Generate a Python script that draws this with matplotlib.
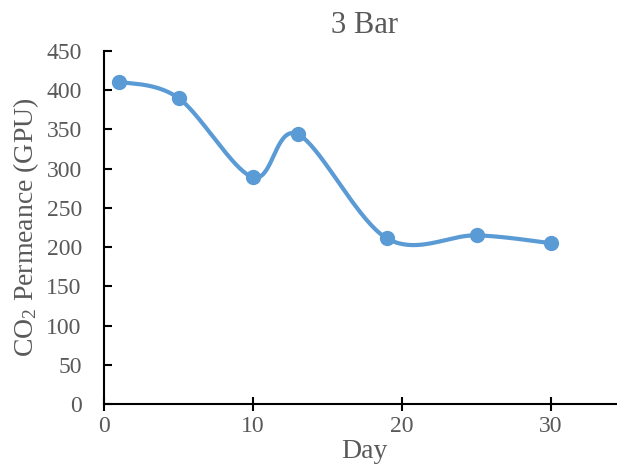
import numpy as np
import matplotlib
matplotlib.use("Agg")
import matplotlib.pyplot as plt

plt.rcParams['font.family'] = ['Liberation Serif', 'DejaVu Serif']
plt.rcParams['mathtext.fontset'] = 'custom'
plt.rcParams['mathtext.rm'] = 'Liberation Serif'
plt.rcParams['mathtext.it'] = 'Liberation Serif:italic'

# datos
dias = [1, 5, 10, 13, 19, 25, 30]
permeancia = [411, 390, 289, 344, 211, 215, 205]

azul = '#5B9BD5'
gris = '#595959'


# curva suavizada tipo excel (catmull-rom)
def suavizar(x, y, n=40):
    x = np.asarray(x, float)
    y = np.asarray(y, float)
    px = np.concatenate([[x[0]], x, [x[-1]]])
    py = np.concatenate([[y[0]], y, [y[-1]]])
    xs, ys = [], []
    t = np.linspace(0, 1, n)
    for i in range(1, len(px) - 2):
        p0, p1, p2, p3 = px[i-1], px[i], px[i+1], px[i+2]
        q0, q1, q2, q3 = py[i-1], py[i], py[i+1], py[i+2]
        c1x, c1y = p1 + (p2 - p0) / 6, q1 + (q2 - q0) / 6
        c2x, c2y = p2 - (p3 - p1) / 6, q2 - (q3 - q1) / 6
        bx = (1-t)**3*p1 + 3*(1-t)**2*t*c1x + 3*(1-t)*t**2*c2x + t**3*p2
        by = (1-t)**3*q1 + 3*(1-t)**2*t*c1y + 3*(1-t)*t**2*c2y + t**3*q2
        xs.append(bx)
        ys.append(by)
    return np.concatenate(xs), np.concatenate(ys)


fig = plt.figure(figsize=(6.17, 4.71), dpi=100)
ax = fig.add_axes([104/617, 67/471, 521.5/617, 353/471])

sx, sy = suavizar(dias, permeancia)
ax.plot(sx, sy, color=azul, lw=3, zorder=2, clip_on=False)
ax.plot(dias, permeancia, 'o', color=azul, ms=10, zorder=3, clip_on=False)

ax.set_xlim(0, 35)
ax.set_ylim(0, 450)
ax.set_xticks([0, 10, 20, 30])
ax.set_yticks(np.arange(0, 451, 50))

for s in ['top', 'right']:
    ax.spines[s].set_visible(False)
for s in ['left', 'bottom']:
    ax.spines[s].set_linewidth(1.5)
    ax.spines[s].set_color('black')

ax.tick_params(axis='y', direction='in', length=6, width=1.5, pad=16,
               labelsize=17, labelcolor=gris)
ax.tick_params(axis='x', direction='inout', length=10, width=1.5, pad=4,
               labelsize=17, labelcolor=gris)

ax.set_title('3 Bar', fontsize=22, color=gris, pad=13)
ax.set_xlabel('Day', fontsize=20, color=gris, labelpad=1)
ax.set_ylabel('CO$_2$ Permeance (GPU)', fontsize=20, color=gris, labelpad=4)

fig.savefig('out.png', dpi=100)
